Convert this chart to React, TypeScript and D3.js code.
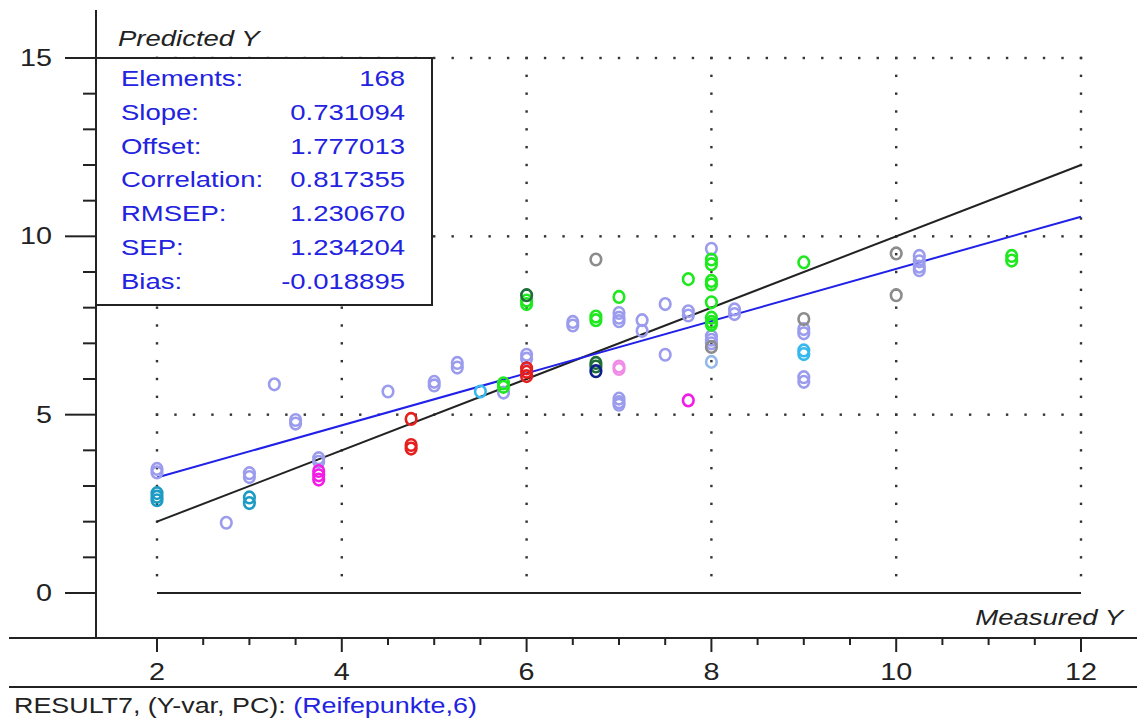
import React, { Component } from 'react';
import * as d3 from 'd3';

// stats panel
const statLabels = ["Elements:", "Slope:", "Offset:", "Correlation:", "RMSEP:", "SEP:", "Bias:"];
const statValues = ["168", "0.731094", "1.777013", "0.817355", "1.230670", "1.234204", "-0.018895"];

const slope = 0.731094;
const offset = 1.777013;

const xTicks = [2, 4, 6, 8, 10, 12];
const yTicks = [0, 5, 10, 15];

// measured / predicted pairs, one array per colour group
const lavenderPts = [
  [2, 3.48], [2, 3.38], [2.75, 1.97], [3, 3.36], [3, 3.25], [3.27, 5.85],
  [3.5, 4.85], [3.5, 4.75], [3.75, 3.78], [3.75, 3.68], [4.5, 5.65],
  [5, 5.92], [5, 5.82], [5.25, 6.45], [5.25, 6.32], [5.75, 5.62],
  [6, 6.68], [6, 6.57], [6.5, 7.6], [6.5, 7.5],
  [7, 7.85], [7, 7.72], [7, 7.62], [7, 5.45], [7, 5.35], [7, 5.28],
  [7.25, 7.65], [7.25, 7.35], [7.5, 8.1], [7.5, 6.68], [7.75, 7.9], [7.75, 7.78],
  [8, 9.65], [8, 7.2], [8, 7.1], [8, 7.0], [8.25, 7.95], [8.25, 7.82],
  [9, 7.4], [9, 7.28], [9, 6.05], [9, 5.92],
  [10.25, 9.45], [10.25, 9.3], [10.25, 9.15], [10.25, 9.05]
];
const tealPts = [[2, 2.8], [2, 2.7], [2, 2.6], [3, 2.68], [3, 2.52]];
const cyanPts = [[5.5, 5.65], [9, 6.8], [9, 6.7]];
const redPts = [[4.75, 4.88], [4.75, 4.15], [4.75, 4.05], [6, 6.3], [6, 6.2], [6, 6.08]];
const magentaPts = [[3.75, 3.42], [3.75, 3.3], [3.75, 3.18], [7.75, 5.4]];
const pinkPts = [[7, 6.35], [7, 6.28]];
const greenPts = [
  [5.75, 5.88], [5.75, 5.78], [6, 8.2], [6, 8.1], [6.75, 7.75], [6.75, 7.65],
  [7, 8.3], [7.75, 8.8], [8, 9.35], [8, 9.22], [8, 8.75], [8, 8.65], [8, 8.15],
  [8, 7.72], [8, 7.6], [8, 7.52], [9, 9.27], [11.25, 9.45], [11.25, 9.32]
];
const darkGreenPts = [[6, 8.35], [6.75, 6.45], [6.75, 6.35]];
const navyPts = [[6.75, 6.22]];
const grayPts = [[6.75, 9.35], [8, 6.9], [9, 7.68], [10, 9.52], [10, 8.35]];
const lightBluePts = [[8, 6.48]];

const groups = [
  { key: 'lavender', pts: lavenderPts },
  { key: 'teal', pts: tealPts },
  { key: 'cyan', pts: cyanPts },
  { key: 'red', pts: redPts },
  { key: 'magenta', pts: magentaPts },
  { key: 'pink', pts: pinkPts },
  { key: 'green', pts: greenPts },
  { key: 'darkGreen', pts: darkGreenPts },
  { key: 'navy', pts: navyPts },
  { key: 'gray', pts: grayPts },
  { key: 'lightBlue', pts: lightBluePts }
];

const colors = {
  lavender: '#9c9cee', teal: '#1c9cc4', cyan: '#35b8ee', red: '#e51e1e',
  magenta: '#f21ce6', pink: '#f08ce8', green: '#1ee81e', darkGreen: '#1f6e3a',
  navy: '#0b1f8c', gray: '#8c8c8c', lightBlue: '#93b8e8'
};

const FONT = '"Liberation Sans", Arial, sans-serif';
const SX = 1.25; // the original text is drawn horizontally stretched

class App extends Component {
  svgRef = React.createRef();

  componentDidMount() {
    this.draw();
  }

  draw() {
    const width = 1137;
    const height = 720;
    const svg = d3.select(this.svgRef.current).attr('width', width).attr('height', height);
    svg.selectAll('*').remove();

    const xScale = d3.scaleLinear().domain([2, 12]).range([157, 1081]);
    const yScale = d3.scaleLinear().domain([0, 15]).range([593, 58]);

    const text = (g, x, y, str, size, anchor, color, italic = false) =>
      g.append('text')
        .attr('transform', `scale(${SX},1)`)
        .attr('x', x / SX).attr('y', y)
        .attr('text-anchor', anchor)
        .style('font-family', FONT)
        .style('font-size', size + 'px')
        .style('font-style', italic ? 'italic' : 'normal')
        .attr('fill', color)
        .text(str);

    // dotted grid
    const dots = svg.append('g').attr('fill', '#333');
    xTicks.forEach(xv => {
      d3.range(0.5, 15.01, 0.5).forEach(yv => {
        dots.append('rect').attr('x', xScale(xv) - 1.2).attr('y', yScale(yv) - 1.2).attr('width', 2.4).attr('height', 2.4);
      });
    });
    [5, 10, 15].forEach(yv => {
      d3.range(2, 12.01, 0.2).forEach(xv => {
        dots.append('rect').attr('x', xScale(xv) - 1.2).attr('y', yScale(yv) - 1.2).attr('width', 2.4).attr('height', 2.4);
      });
    });

    // zero line
    svg.append('line')
      .attr('x1', xScale(2)).attr('x2', xScale(12))
      .attr('y1', yScale(0)).attr('y2', yScale(0))
      .attr('stroke', '#222').attr('stroke-width', 2);

    // target line and regression line
    svg.append('line')
      .attr('x1', xScale(2)).attr('y1', yScale(2))
      .attr('x2', xScale(12)).attr('y2', yScale(12))
      .attr('stroke', '#222').attr('stroke-width', 2);
    svg.append('line')
      .attr('x1', xScale(2)).attr('y1', yScale(offset + slope * 2))
      .attr('x2', xScale(12)).attr('y2', yScale(offset + slope * 12))
      .attr('stroke', '#2020e8').attr('stroke-width', 2);

    // points
    groups.forEach(grp => {
      svg.append('g').selectAll('ellipse').data(grp.pts).join('ellipse')
        .attr('cx', d => xScale(d[0])).attr('cy', d => yScale(d[1]))
        .attr('rx', 5.3).attr('ry', 5.8)
        .attr('fill', 'none')
        .attr('stroke', colors[grp.key])
        .attr('stroke-width', 2.6);
    });

    // stats box
    svg.append('rect')
      .attr('x', 96).attr('y', yScale(15))
      .attr('width', 336).attr('height', 247)
      .attr('fill', '#fff').attr('stroke', '#222').attr('stroke-width', 2);
    const stats = svg.append('g');
    statLabels.forEach((lab, i) => {
      const by = 86 + i * 33.8;
      text(stats, 121, by, lab, 22, 'start', '#2222e0');
      text(stats, 405, by, statValues[i], 22, 'end', '#2222e0');
    });

    // axes
    const axis = svg.append('g').attr('stroke', '#222').attr('stroke-width', 2);
    axis.append('line').attr('x1', 96).attr('x2', 96).attr('y1', 10).attr('y2', 638);
    axis.append('line').attr('x1', 9).attr('x2', width).attr('y1', 638).attr('y2', 638);
    axis.append('line').attr('x1', 9).attr('x2', width).attr('y1', 687).attr('y2', 687);

    d3.range(0, 15.01, 1).forEach(v => {
      const major = v % 5 === 0;
      axis.append('line')
        .attr('x1', major ? 65 : 83).attr('x2', 96)
        .attr('y1', yScale(v)).attr('y2', yScale(v));
    });
    d3.range(2, 12.01, 0.5).forEach(v => {
      const major = v % 2 === 0;
      axis.append('line')
        .attr('x1', xScale(v)).attr('x2', xScale(v))
        .attr('y1', 638).attr('y2', major ? 652 : 645);
    });

    const labels = svg.append('g');
    yTicks.forEach(v => text(labels, 52, yScale(v) + 8, String(v), 23, 'end', '#222'));
    xTicks.forEach(v => text(labels, xScale(v), 680, String(v), 23, 'middle', '#222'));

    text(labels, 118, 46, 'Predicted Y', 22, 'start', '#222', true);
    text(labels, 1123, 625, 'Measured Y', 22, 'end', '#222', true);

    // caption
    const cap = labels.append('text')
      .attr('transform', `scale(${SX},1)`)
      .attr('x', 14 / SX).attr('y', 713)
      .style('font-family', FONT).style('font-size', '21.5px');
    cap.append('tspan').attr('fill', '#222').text('RESULT7, (Y-var, PC): ');
    cap.append('tspan').attr('fill', '#2222e0').text('(Reifepunkte,6)');
  }

  render() {
    return (
      <div>
        <style>{'body{margin:0;background:#fff}'}</style>
        <svg ref={this.svgRef} style={{ display: 'block' }} />
      </div>
    );
  }
}

export default App;
